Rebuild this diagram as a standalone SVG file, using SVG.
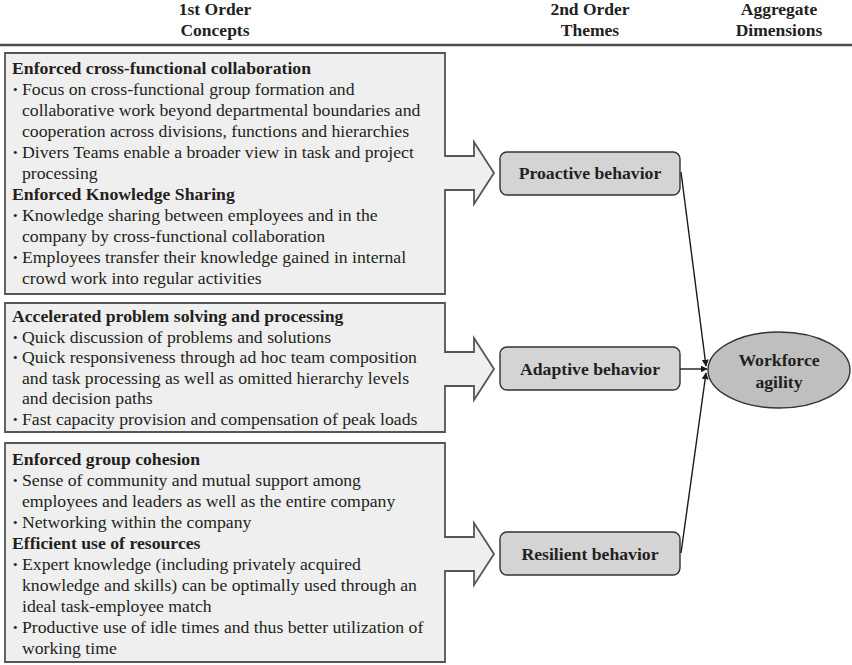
<svg xmlns="http://www.w3.org/2000/svg" width="852" height="665" viewBox="0 0 852 665">
  <defs>
    <marker id="arrowhead" viewBox="0 0 10 10" refX="9" refY="5" markerWidth="7" markerHeight="7" markerUnits="userSpaceOnUse" orient="auto">
      <path d="M0,0 L10,5 L0,10 Z" fill="#1a1a1a"/>
    </marker>
  </defs>
  <style>
    .hdr { font-family: "Liberation Serif", "Times New Roman", serif; font-weight: bold; font-size: 17.5px; fill: #222; text-anchor: middle; }
    .concept { fill: #efefef; stroke: #555; stroke-width: 1.8; stroke-linejoin: miter; }
    .body { font-family: "Liberation Serif", "Times New Roman", serif; font-size: 17.7px; fill: #231f20; }
    .title { font-weight: bold; }
    .bul { font-size: 13px; }
    .theme { fill: #d4d4d4; stroke: #333; stroke-width: 1.4; }
    .themetxt { font-family: "Liberation Serif", "Times New Roman", serif; font-weight: bold; font-size: 17.7px; fill: #231f20; text-anchor: middle; }
    .agg { fill: #bfbfbf; stroke: #333; stroke-width: 1.4; }
    .conn { stroke: #1a1a1a; stroke-width: 1.4; fill: none; }
  </style>

  <rect width="852" height="665" fill="#fff"/>

  <!-- column headings -->
  <g id="headings">
    <text class="hdr" x="215" y="15">1st Order</text>
    <text class="hdr" x="215" y="36">Concepts</text>
    <text class="hdr" x="590" y="15">2nd Order</text>
    <text class="hdr" x="590" y="36">Themes</text>
    <text class="hdr" x="779" y="15">Aggregate</text>
    <text class="hdr" x="779" y="36">Dimensions</text>
    <line x1="0" y1="45" x2="852" y2="45" stroke="#4d4d4d" stroke-width="2.5"/>
  </g>

  <!-- concept block 1 with its block arrow -->
  <g id="concepts-collaboration">
    <path class="concept" d="M5,53 H445 V156 H474 V142 L494,173 L474,204 V190 H445 V294 H5 Z"/>
    <text class="body">
      <tspan class="title" x="12" y="74">Enforced cross-functional collaboration</tspan>
      <tspan class="bul" x="13" y="94">•</tspan><tspan x="22" y="95">Focus on cross-functional group formation and</tspan>
      <tspan x="22" y="116">collaborative work beyond departmental boundaries and</tspan>
      <tspan x="22" y="137">cooperation across divisions, functions and hierarchies</tspan>
      <tspan class="bul" x="13" y="157">•</tspan><tspan x="22" y="158">Divers Teams enable a broader view in task and project</tspan>
      <tspan x="22" y="179">processing</tspan>
      <tspan class="title" x="12" y="200">Enforced Knowledge Sharing</tspan>
      <tspan class="bul" x="13" y="220">•</tspan><tspan x="22" y="221">Knowledge sharing between employees and in the</tspan>
      <tspan x="22" y="242">company by cross-functional collaboration</tspan>
      <tspan class="bul" x="13" y="262">•</tspan><tspan x="22" y="263">Employees transfer their knowledge gained in internal</tspan>
      <tspan x="22" y="284">crowd work into regular activities</tspan>
    </text>
  </g>

  <!-- concept block 2 -->
  <g id="concepts-problem-solving">
    <path class="concept" d="M5,303 H445 V352 H474 V338 L494,369 L474,400 V386 H445 V432 H5 Z"/>
    <text class="body">
      <tspan class="title" x="12" y="322">Accelerated problem solving and processing</tspan>
      <tspan class="bul" x="13" y="341.6">•</tspan><tspan x="22" y="342.6">Quick discussion of problems and solutions</tspan>
      <tspan class="bul" x="13" y="362.2">•</tspan><tspan x="22" y="363.2">Quick responsiveness through ad hoc team composition</tspan>
      <tspan x="22" y="383.8">and task processing as well as omitted hierarchy levels</tspan>
      <tspan x="22" y="404.4">and decision paths</tspan>
      <tspan class="bul" x="13" y="424">•</tspan><tspan x="22" y="425">Fast capacity provision and compensation of peak loads</tspan>
    </text>
  </g>

  <!-- concept block 3 -->
  <g id="concepts-cohesion">
    <path class="concept" d="M5,443 H445 V537 H474 V523 L494,554 L474,585 V571 H445 V662 H5 Z"/>
    <text class="body">
      <tspan class="title" x="12" y="465">Enforced group cohesion</tspan>
      <tspan class="bul" x="13" y="485">•</tspan><tspan x="22" y="486">Sense of community and mutual support among</tspan>
      <tspan x="22" y="507">employees and leaders as well as the entire company</tspan>
      <tspan class="bul" x="13" y="527">•</tspan><tspan x="22" y="528">Networking within the company</tspan>
      <tspan class="title" x="12" y="549">Efficient use of resources</tspan>
      <tspan class="bul" x="13" y="569">•</tspan><tspan x="22" y="570">Expert knowledge (including privately acquired</tspan>
      <tspan x="22" y="591">knowledge and skills) can be optimally used through an</tspan>
      <tspan x="22" y="612">ideal task-employee match</tspan>
      <tspan class="bul" x="13" y="632">•</tspan><tspan x="22" y="633">Productive use of idle times and thus better utilization of</tspan>
      <tspan x="22" y="654">working time</tspan>
    </text>
  </g>

  <!-- second order themes -->
  <g id="theme-proactive">
    <rect class="theme" x="500" y="152" width="180" height="43" rx="7"/>
    <text class="themetxt" x="590" y="179">Proactive behavior</text>
  </g>
  <g id="theme-adaptive">
    <rect class="theme" x="500" y="347" width="180" height="43" rx="7"/>
    <text class="themetxt" x="590" y="375">Adaptive behavior</text>
  </g>
  <g id="theme-resilient">
    <rect class="theme" x="500" y="532" width="180" height="43" rx="7"/>
    <text class="themetxt" x="590" y="560">Resilient behavior</text>
  </g>

  <!-- aggregate dimension -->
  <g id="dimension-workforce-agility">
    <ellipse class="agg" cx="779" cy="370" rx="71" ry="38"/>
    <text class="themetxt" x="779" y="366">Workforce</text>
    <text class="themetxt" x="779" y="388">agility</text>
  </g>

  <!-- connectors -->
  <g id="connectors">
    <line class="conn" x1="681" y1="172" x2="706" y2="366" marker-end="url(#arrowhead)"/>
    <line class="conn" x1="680" y1="369" x2="707" y2="369" marker-end="url(#arrowhead)"/>
    <line class="conn" x1="681" y1="553" x2="706" y2="373" marker-end="url(#arrowhead)"/>
  </g>
</svg>
